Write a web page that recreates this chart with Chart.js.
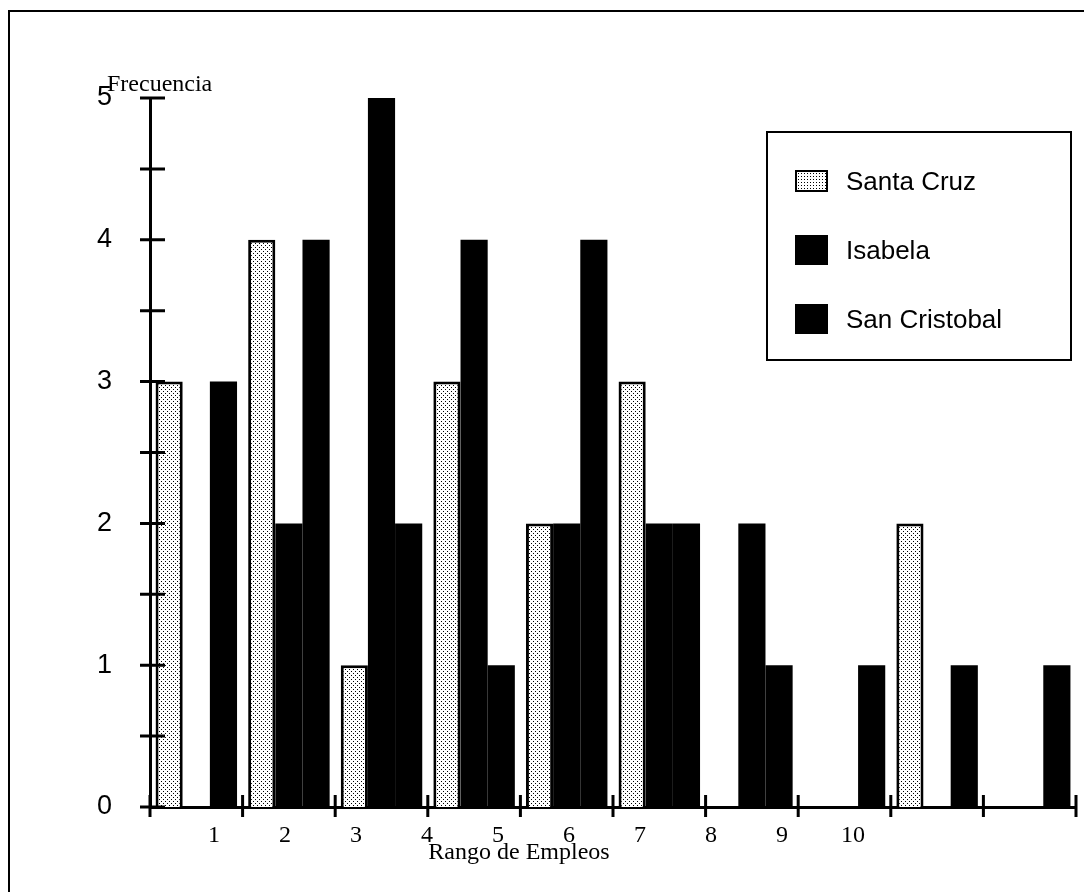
<!DOCTYPE html>
<html lang="es">
<head>
<meta charset="utf-8">
<title>Rango de Empleos</title>
<script src="https://cdn.jsdelivr.net/npm/chart.js@4.4.1/dist/chart.umd.min.js"></script>
<style>
  html, body { margin: 0; padding: 0; background: #fff; overflow: hidden; }
  #wrap { position: relative; width: 1084px; height: 892px; }
  #frame {
    position: absolute; left: 8px; top: 10px; width: 1100px; height: 900px;
    border-top: 2px solid #000; border-left: 2px solid #000; pointer-events: none;
  }
  .label { position: absolute; font: 24px/24px "Liberation Serif", "Times New Roman", serif; color: #000; white-space: nowrap; }
  #yTitle { left: 107px; top: 71px; }
  #xTitle { left: 419px; top: 839px; width: 200px; text-align: center; }
  #legend {
    position: absolute; left: 766px; top: 131px; width: 306px; height: 230px;
    border: 2px solid #000; box-sizing: border-box; padding-top: 33px;
    font: 26px "Liberation Sans", Arial, sans-serif; color: #000;
  }
  #legend .item { display: flex; align-items: center; height: 30px; margin-bottom: 39px; }
  #legend .swatch { width: 33px; height: 30px; margin-left: 27px; margin-right: 18px; box-sizing: border-box; }
  #legend .swatch.dots {
    height: 22px; border: 2px solid #000; background-color: #fff;
    background-image: radial-gradient(#000 0.7px, transparent 0.9px); background-size: 3px 3px;
  }
</style>
</head>
<body>
<div id="wrap">
  <canvas id="chart" width="1084" height="892"></canvas>
  <div id="frame"></div>
  <div id="yTitle" class="label">Frecuencia</div>
  <div id="xTitle" class="label">Rango de Empleos</div>
  <div id="legend"></div>
</div>
<script>
// ─── Data ─────────────────────────────────────────────────────────────────────
const categories   = ['1', '2', '3', '4', '5', '6', '7', '8', '9', '10'];
const seriesNames  = ['Santa Cruz', 'Isabela', 'San Cristobal'];
const santaCruz    = [3, 4, 1, 3, 2, 3, 0, 0, 2, 0];
const isabela      = [0, 2, 5, 4, 2, 2, 2, 0, 0, 0];
const sanCristobal = [3, 4, 2, 1, 4, 2, 1, 1, 1, 1];
const rangeLabels  = [1, 2, 3, 4, 5, 6, 7, 8, 9, 10];

// ─── Stipple pattern for Santa Cruz ───────────────────────────────────────────
function makeDots() {
  const c = document.createElement('canvas');
  c.width = 4; c.height = 4;
  const g = c.getContext('2d');
  g.fillStyle = '#fff'; g.fillRect(0, 0, 4, 4);
  g.fillStyle = '#000'; g.fillRect(1, 1, 1, 1); g.fillRect(3, 3, 1, 1);
  return g.createPattern(c, 'repeat');
}

// ─── Ticks that cross the axes ────────────────────────────────────────────────
const crossTicks = {
  id: 'crossTicks',
  afterDatasetsDraw(chart) {
    const { ctx, chartArea, scales: { x, y } } = chart;
    ctx.save();
    ctx.strokeStyle = '#000';
    ctx.lineWidth = 3;
    ctx.beginPath();
    y.ticks.forEach(t => {
      const py = y.getPixelForValue(t.value);
      ctx.moveTo(chartArea.left - 10, py);
      ctx.lineTo(chartArea.left + 15, py);
    });
    for (let i = 0; i <= categories.length; i++) {
      const px = x.getPixelForValue(i - 0.5);
      ctx.moveTo(px, chartArea.bottom - 12);
      ctx.lineTo(px, chartArea.bottom + 10);
    }
    ctx.stroke();
    ctx.restore();
  }
};

const serif = { family: '"Liberation Serif", "Times New Roman", serif', size: 24 };
const sans  = { family: '"Liberation Sans", Arial, sans-serif', size: 27 };

new Chart(document.getElementById('chart'), {
  type: 'bar',
  data: {
    labels: categories,
    datasets: [
      { label: seriesNames[0], data: santaCruz, backgroundColor: makeDots(),
        borderColor: '#000', borderWidth: 3 },
      { label: seriesNames[1], data: isabela, backgroundColor: '#000', borderWidth: 0 },
      { label: seriesNames[2], data: sanCristobal, backgroundColor: '#000', borderWidth: 0 },
    ]
  },
  options: {
    responsive: false,
    animation: false,
    devicePixelRatio: 1,
    layout: { padding: { left: 0, right: 8, top: 98, bottom: 0 } },
    datasets: { bar: { categoryPercentage: 0.88, barPercentage: 1 } },
    plugins: {
      legend: { display: false },
      tooltip: { enabled: false },
      title: { display: false }
    },
    scales: {
      x: { display: false, offset: true },
      // printed range numbers sit on their own scale, not under the bar groups
      xLabel: {
        type: 'linear', position: 'bottom', min: 0.0986, max: 13.14,
        offset: false,
        afterBuildTicks: s => { s.ticks = rangeLabels.map(v => ({ value: v })); },
        afterFit: s => { s.height = 85; },
        grid: { display: false, drawTicks: false, offset: false },
        border: { display: true, color: '#000', width: 3 },
        ticks: { color: '#000', font: serif, padding: 14, autoSkip: false, maxRotation: 0,
          callback: v => String(v) }
      },
      y: {
        min: 0, max: 5,
        afterFit: s => { s.width = 150; },
        grid: { display: false, drawTicks: false },
        border: { display: true, color: '#000', width: 3 },
        ticks: { stepSize: 0.5, autoSkip: false, color: '#000', font: sans, padding: 38,
          callback: v => Number.isInteger(v) ? String(v) : '' }
      }
    }
  },
  plugins: [crossTicks]
});

// ─── HTML legend ──────────────────────────────────────────────────────────────
document.getElementById('legend').innerHTML = seriesNames.map((name, i) => `
  <div class="item">
    <span class="swatch${i === 0 ? ' dots' : ''}" style="${i === 0 ? '' : 'background:#000'}"></span>
    <span>${name}</span>
  </div>`).join('');
</script>
</body>
</html>
